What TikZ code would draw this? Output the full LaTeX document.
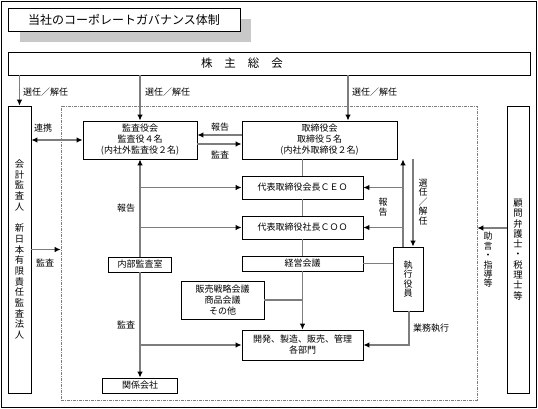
\documentclass[tikz,border=0pt]{standalone}
\usepackage{fontspec}
\setmainfont{Noto Sans CJK JP}
\usetikzlibrary{arrows.meta}
\definecolor{linegray}{RGB}{125,125,125}
\definecolor{shadowgray}{RGB}{200,200,200}

\begin{document}
\begin{tikzpicture}[x=1pt,y=-1pt,
  box/.style={draw=black, line width=0.7pt, fill=white, inner sep=0pt, align=center, font=\fontsize{9}{11}\selectfont},
  lbl/.style={inner sep=0pt, font=\fontsize{9}{10}\selectfont},
  tate/.style={inner sep=0pt, align=center, font=\fontsize{9}{9.4}\selectfont},
  ln/.style={draw=linegray, line width=1.2pt},
  arr/.style={ln, -{Latex[length=6pt,width=5.5pt,color=black]}},
  arrboth/.style={ln, {Latex[length=6pt,width=5.5pt,color=black]}-{Latex[length=6pt,width=5.5pt,color=black]}}]
\useasboundingbox (0,0) rectangle (538,409);
\draw[line width=1.2pt] (1.5,1.5) rectangle (536.5,407.5);

% title
\fill[shadowgray] (20,19) rectangle (251,42);
\node[box, minimum width=232pt, minimum height=23pt, font=\fontsize{12}{14}\selectfont] (title) at (124,19.5) {当社のコーポレートガバナンス体制};

% frame
\node[draw=linegray, line width=0.6pt, dash pattern=on 3pt off 1pt on 1pt off 1pt, minimum width=416pt, minimum height=294pt, inner sep=0pt] (waku) at (269,253) {};

% boxes
\node[box, minimum width=522pt, minimum height=23pt, font=\fontsize{11.5}{13}\selectfont] (kabu) at (269,63.5) {\hspace*{-54pt}株\hspace{12pt}主\hspace{12pt}総\hspace{12pt}会};
\node[box, minimum width=23pt, minimum height=287pt, font=\fontsize{9.3}{10.7}\selectfont] (kaikei) at (19.5,249.5) {会\\計\\監\\査\\人\\[10.7pt]新\\日\\本\\有\\限\\責\\任\\監\\査\\法\\人};
\node[box, minimum width=22pt, minimum height=287pt, font=\fontsize{9.3}{10.3}\selectfont] (komon) at (518,249.5) {顧\\問\\弁\\護\\士\\・\\税\\理\\士\\等};
\node[box, minimum width=114pt, minimum height=38pt] (kansa) at (140,140) {監査役会\\監査役４名\\(内社外監査役２名)};
\node[box, minimum width=155pt, minimum height=38pt] (tori) at (319.5,140) {取締役会\\取締役５名\\(内社外取締役２名)};
\node[box, minimum width=121pt, minimum height=23pt] (ceo) at (302.5,187.5) {代表取締役会長ＣＥＯ};
\node[box, minimum width=121pt, minimum height=23pt] (coo) at (302.5,227.5) {代表取締役社長ＣＯＯ};
\node[box, minimum width=121pt, minimum height=15pt] (keiei) at (302.5,263.5) {経営会議};
\node[box, minimum width=83pt, minimum height=38pt] (hanbai) at (222.5,300) {販売戦略会議\\商品会議\\その他};
\node[box, minimum width=121pt, minimum height=30pt] (kaihatsu) at (302.5,345) {開発、製造、販売、管理\\各部門};
\node[box, minimum width=30pt, minimum height=64pt, font=\fontsize{9}{9.6}\selectfont] (shikko) at (408,279) {執\\行\\役\\員};
\node[box, minimum width=63pt, minimum height=15pt] (naibu) at (140,264.5) {内部監査室};
\node[box, minimum width=75pt, minimum height=15pt] (kankei) at (140,385.5) {関係会社};

% shareholders
\draw[arr] (kabu.south -| kaikei) -- (kaikei.north);
\draw[arr] (kabu.south -| kansa) -- (kansa.north);
\draw[arr] ([xshift=28.5pt]tori.north |- kabu.south) -- ([xshift=28.5pt]tori.north);
\node[lbl, anchor=west] (sennin1) at (23,92) {選任／解任};
\node[lbl, anchor=west] (sennin2) at (145,92) {選任／解任};
\node[lbl, anchor=west] (sennin3) at (352,92) {選任／解任};

% auditors
\draw[arrboth] (kaikei.east |- kansa.west) -- (kansa.west);
\node[lbl] (renkei) at (43,128) {連携};
\draw[arr] (kaikei.east) -- (kaikei.east -| waku.west);
\node[lbl] (kansa1) at (45,263) {監査};
\draw[arr] ([yshift=5pt]tori.west) -- ([yshift=5pt]tori.west -| kansa.east);
\draw[arr] ([yshift=-4pt]kansa.east) -- ([yshift=-4pt]kansa.east -| tori.west);
\node[lbl] (hokoku1) at (220,127) {報告};
\node[lbl] (kansa2) at (220,155) {監査};

% main line
\draw[ln] (tori.south -| ceo) -- (ceo.north);
\draw[ln] (ceo.south) -- (coo.north);
\draw[ln] (coo.south) -- (keiei.north);
\draw[arr] (keiei.south) -- (kaihatsu.north);
\draw[ln] (hanbai.east) -- (hanbai.east -| keiei);

% internal audit
\draw[arr] (naibu.north) -- (kansa.south);
\draw[arr] (naibu.south) -- (kankei.north);
\draw[arr] (naibu.north |- ceo.west) -- (ceo.west);
\draw[arr] (naibu.north |- coo.west) -- (coo.west);
\draw[arr] (naibu.south |- kaihatsu.west) -- (kaihatsu.west);
\node[lbl] (hokoku2) at (126,208) {報告};
\node[lbl] (kansa3) at (126,325) {監査};

% officers
\coordinate (hk) at ([xshift=-5pt]shikko.north);
\coordinate (sn) at ([xshift=5pt]shikko.north);
\draw[arr] (hk) -- (hk |- tori.south);
\draw[arr] (hk |- ceo.east) -- (ceo.east);
\draw[arr] (hk |- coo.east) -- (coo.east);
\draw[arr] (sn |- tori.south) -- (sn);
\draw[ln] (keiei.east) -- (keiei.east -| shikko.west);
\draw[arr] ([xshift=1pt]shikko.south) |- (kaihatsu.east);
\node[tate] (hokoku3) at (383,207) {報\\告};
\node[tate] (sennin4) at (423,202) {選\\任\\／\\解\\任};
\node[lbl] (gyomu) at (431,328) {業務執行};

% advisors
\draw[arr] ([yshift=21.5pt]komon.west) -- ([yshift=21.5pt]komon.west -| waku.east);
\node[tate] (jogen) at (488,260) {助\\言\\・\\指\\導\\等};
\end{tikzpicture}
\end{document}
